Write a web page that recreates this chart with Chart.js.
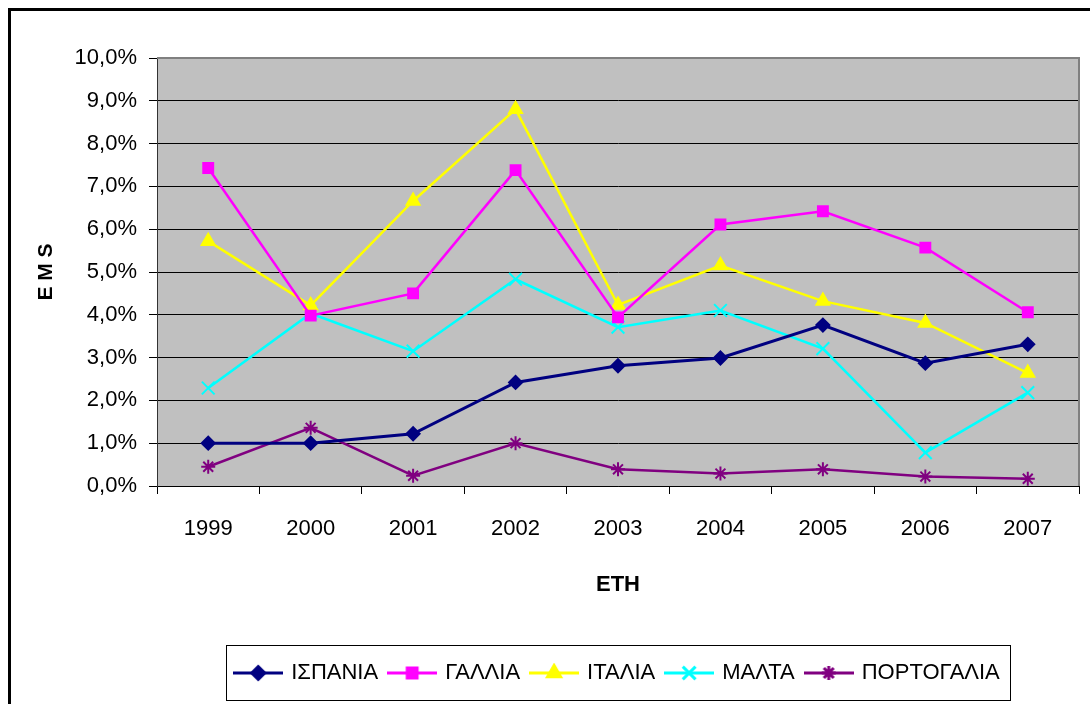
<!DOCTYPE html>
<html>
<head>
<meta charset="utf-8">
<script src="https://cdn.jsdelivr.net/npm/chart.js@4.4.1/dist/chart.umd.min.js"></script>
<style>
  html, body { margin: 0; padding: 0; background: #fff; }
  #wrap { width: 1090px; height: 704px; }
</style>
</head>
<body>
<div id="wrap"><canvas id="emsChart" width="1090" height="704"></canvas></div>
<script>
const years = ['1999', '2000', '2001', '2002', '2003', '2004', '2005', '2006', '2007'];
const ispania = [1.0, 1.0, 1.22, 2.42, 2.81, 2.99, 3.76, 2.87, 3.31];
const gallia = [7.43, 3.98, 4.5, 7.38, 3.94, 6.11, 6.42, 5.57, 4.06];
const italia = [5.72, 4.22, 6.66, 8.8, 4.23, 5.15, 4.32, 3.81, 2.64];
const malta = [2.29, 4.03, 3.15, 4.83, 3.71, 4.1, 3.21, 0.78, 2.18];
const portogalia = [0.45, 1.36, 0.24, 1.0, 0.39, 0.29, 0.39, 0.22, 0.17];
const yTicks = [0, 1, 2, 3, 4, 5, 6, 7, 8, 9, 10];

const FONT = "'Liberation Sans', Arial, sans-serif";

const seriesDefs = [
    { label: 'ΙΣΠΑΝΙΑ', data: ispania, color: '#000080', style: 'rectRot', radius: 6.5, width: 3 },
    { label: 'ΓΑΛΛΙΑ', data: gallia, color: '#FF00FF', style: 'rect', radius: 7, width: 2.5 },
    { label: 'ΙΤΑΛΙΑ', data: italia, color: '#FFFF00', style: 'triangle', radius: 7.5, width: 2.5 },
    { label: 'ΜΑΛΤΑ', data: malta, color: '#00FFFF', style: 'crossRot', radius: 9, width: 2.5 },
    { label: 'ΠΟΡΤΟΓΑΛΙΑ', data: portogalia, color: '#800080', style: 'star', radius: 7, width: 2.5 }
];

// small line + marker picture for the legend
function legendIcon(s) {
    const c = document.createElement('canvas');
    c.width = 50;
    c.height = 20;
    const ctx = c.getContext('2d');
    ctx.strokeStyle = s.color;
    ctx.lineWidth = 3;
    ctx.beginPath();
    ctx.moveTo(0, 10);
    ctx.lineTo(50, 10);
    ctx.stroke();
    ctx.fillStyle = s.color;
    ctx.strokeStyle = s.color;
    Chart.helpers.drawPoint(ctx, { pointStyle: s.style, radius: s.radius, borderWidth: 2 }, 25, 10);
    return c;
}

const datasets = seriesDefs.map(s => ({
    label: s.label,
    data: s.data,
    borderColor: s.color,
    backgroundColor: s.color,
    borderWidth: s.width,
    pointStyle: s.style,
    pointRadius: s.radius,
    pointBackgroundColor: s.color,
    pointBorderColor: s.color,
    pointBorderWidth: 2,
    tension: 0,
    clip: false
}));

const icons = seriesDefs.map(legendIcon);

const frame = {
    id: 'frame',
    beforeDraw(chart) {
        const { ctx, chartArea: a } = chart;
        ctx.save();
        ctx.fillStyle = '#C0C0C0';
        ctx.fillRect(a.left, a.top, a.right - a.left, a.bottom - a.top);
        ctx.strokeStyle = '#000';
        ctx.lineWidth = 3;
        ctx.strokeRect(9.5, 9.5, 1200, 1000);
        ctx.restore();
    },
    beforeDatasetsDraw(chart) {
        const { ctx, chartArea: a } = chart;
        ctx.save();
        ctx.strokeStyle = '#808080';
        ctx.lineWidth = 2;
        ctx.beginPath();
        ctx.moveTo(a.left, a.top);
        ctx.lineTo(a.right, a.top);
        ctx.lineTo(a.right, a.bottom);
        ctx.stroke();
        ctx.restore();
    },
    afterDraw(chart) {
        const lg = chart.legend;
        if (!lg || !lg.legendHitBoxes.length) return;
        const hb = lg.legendHitBoxes;
        const x0 = Math.min(...hb.map(h => h.left)) - 10;
        const x1 = Math.max(...hb.map(h => h.left + h.width)) + 10;
        const cy = hb[0].top + hb[0].height / 2;
        const ctx = chart.ctx;
        ctx.save();
        ctx.strokeStyle = '#000';
        ctx.lineWidth = 1;
        ctx.strokeRect(Math.round(x0) + 0.5, Math.round(cy - 28) + 0.5, Math.round(x1 - x0), 55);
        ctx.restore();
    }
};

new Chart(document.getElementById('emsChart'), {
    type: 'line',
    data: { labels: years, datasets: datasets },
    options: {
        responsive: false,
        animation: false,
        layout: { padding: { left: 20, top: 58, right: 9, bottom: 10 } },
        plugins: {
            tooltip: { enabled: false },
            legend: {
                position: 'bottom',
                fullSize: false,
                labels: {
                    usePointStyle: true,
                    pointStyleWidth: 44,
                    padding: 12,
                    color: '#000',
                    font: { family: FONT, size: 22 },
                    generateLabels(chart) {
                        return chart.data.datasets.map((ds, i) => ({
                            text: ds.label,
                            fillStyle: ds.borderColor,
                            strokeStyle: ds.borderColor,
                            lineWidth: 0,
                            pointStyle: icons[i],
                            hidden: false,
                            datasetIndex: i,
                            fontColor: '#000'
                        }));
                    }
                }
            }
        },
        scales: {
            x: {
                offset: true,
                afterFit(scale) { scale.height = 164; },
                grid: {
                    display: true,
                    offset: true,
                    drawOnChartArea: false,
                    drawTicks: true,
                    tickLength: 8,
                    color: '#000',
                    lineWidth: 1
                },
                border: { display: true, color: '#000', width: 1 },
                ticks: {
                    color: '#000',
                    padding: 22,
                    maxRotation: 0,
                    font: { family: FONT, size: 22 }
                },
                title: {
                    display: true,
                    text: 'ΕΤΗ',
                    color: '#000',
                    font: { family: FONT, size: 22, weight: 'bold' },
                    padding: { top: 0, bottom: 52 }
                }
            },
            y: {
                min: 0,
                max: 10,
                afterFit(scale) { scale.width = 137; },
                afterBuildTicks(scale) { scale.ticks = yTicks.map(v => ({ value: v })); },
                grid: {
                    color: '#000',
                    lineWidth: 1,
                    drawTicks: true,
                    tickLength: 8
                },
                border: { display: true, color: '#333', width: 1 },
                ticks: {
                    color: '#000',
                    padding: 12,
                    font: { family: FONT, size: 22 },
                    callback: v => v.toFixed(1).replace('.', ',') + '%'
                },
                title: {
                    display: true,
                    text: 'E M S',
                    color: '#000',
                    font: { family: FONT, size: 21, weight: 'bold' },
                    padding: { top: 14, bottom: 0 }
                }
            }
        }
    },
    plugins: [frame]
});
</script>
</body>
</html>
